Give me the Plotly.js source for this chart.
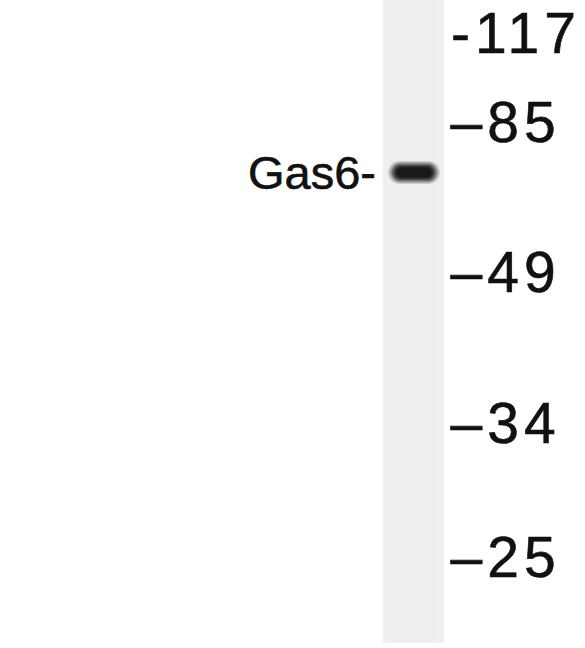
<!DOCTYPE html>
<html>
<head>
<meta charset="utf-8">
<script src="https://cdn.plot.ly/plotly-3.0.1.min.js"></script>
<style>
html,body{margin:0;padding:0;background:#fff;}
#chart{width:585px;height:648px;}
.annotation-text.mw{letter-spacing:5px;}
.annotation-text{stroke:#111;stroke-width:0.6px;}
</style>
</head>
<body>
<div id="chart"></div>
<script>
// Molecular weight markers (kDa) and their migration positions on the blot
const markerLabels = ['-117', '\u201385', '\u201349', '\u201334', '\u201325'];
const markerPos = [36, 125, 275, 426, 560];
// Detected protein band
const bandLabel = 'Gas6-';
const bandPos = 172.5;
// Band intensity layers (outer -> inner), relative darkness
const bandLayers = [0.1, 0.3, 0.55, 0.75, 0.9, 1.0];

const laneX0 = 383, laneX1 = 444, laneTop = 0, laneBottom = 643;
const bandX0 = 388, bandX1 = 440, bandH = 23;

function pill(x0, x1, yc, h) {
  const r = h / 2, n = 14, pts = [];
  for (let k = 0; k <= n; k++) {           // right cap
    const a = -Math.PI / 2 + Math.PI * k / n;
    pts.push([x1 - r + r * Math.cos(a), yc + r * Math.sin(a)]);
  }
  for (let k = 0; k <= n; k++) {           // left cap
    const a = Math.PI / 2 + Math.PI * k / n;
    pts.push([x0 + r + r * Math.cos(a), yc + r * Math.sin(a)]);
  }
  return 'M ' + pts.map(p => p[0].toFixed(2) + ',' + p[1].toFixed(2)).join(' L ') + ' Z';
}

const shapes = [];
shapes.push({type: 'rect', xref: 'x', yref: 'y', x0: laneX0, x1: laneX1, y0: laneTop, y1: laneBottom,
  fillcolor: '#efefef', line: {width: 0}, layer: 'below'});
shapes.push({type: 'rect', xref: 'x', yref: 'y', x0: laneX0 + 10, x1: laneX1 - 10, y0: laneTop, y1: laneBottom,
  fillcolor: '#eeeeee', line: {width: 0}, layer: 'below'});

bandLayers.forEach((v, i) => {
  const inset = i * 1.7;
  const h = bandH - i * 2.6;
  const g = Math.round(225 - v * 200);
  shapes.push({type: 'path', xref: 'x', yref: 'y',
    path: pill(bandX0 + inset, bandX1 - inset, bandPos, h),
    fillcolor: `rgb(${g},${g},${g})`, line: {width: 0}});
});

const annotations = markerLabels.map((t, i) => ({
  xref: 'x', yref: 'y', x: i === 0 ? 459 : 456, y: markerPos[i], yshift: 3, xanchor: 'left', yanchor: 'middle',
  text: t, showarrow: false, font: {family: 'Liberation Sans, Arial, sans-serif', size: 57, color: '#111'}
}));
annotations.push({
  xref: 'x', yref: 'y', x: 378, y: bandPos, xanchor: 'right', yanchor: 'middle',
  text: bandLabel, showarrow: false, font: {family: 'Liberation Sans, Arial, sans-serif', size: 47, color: '#111'}
});

const layout = {
  width: 585, height: 648,
  margin: {l: 0, r: 0, t: 0, b: 0},
  paper_bgcolor: '#ffffff', plot_bgcolor: '#ffffff',
  xaxis: {range: [0, 585], visible: false, fixedrange: true},
  yaxis: {range: [648, 0], visible: false, fixedrange: true},
  shapes: shapes,
  annotations: annotations,
  showlegend: false
};

Plotly.newPlot('chart', [{x: [], y: [], type: 'scatter', mode: 'markers', hoverinfo: 'skip'}], layout,
  {displayModeBar: false, staticPlot: true}).then(() => {
  document.querySelectorAll('.annotation-text').forEach((el, i) => {
    if (i < markerLabels.length) el.classList.add('mw');
  });
});
</script>
</body>
</html>
